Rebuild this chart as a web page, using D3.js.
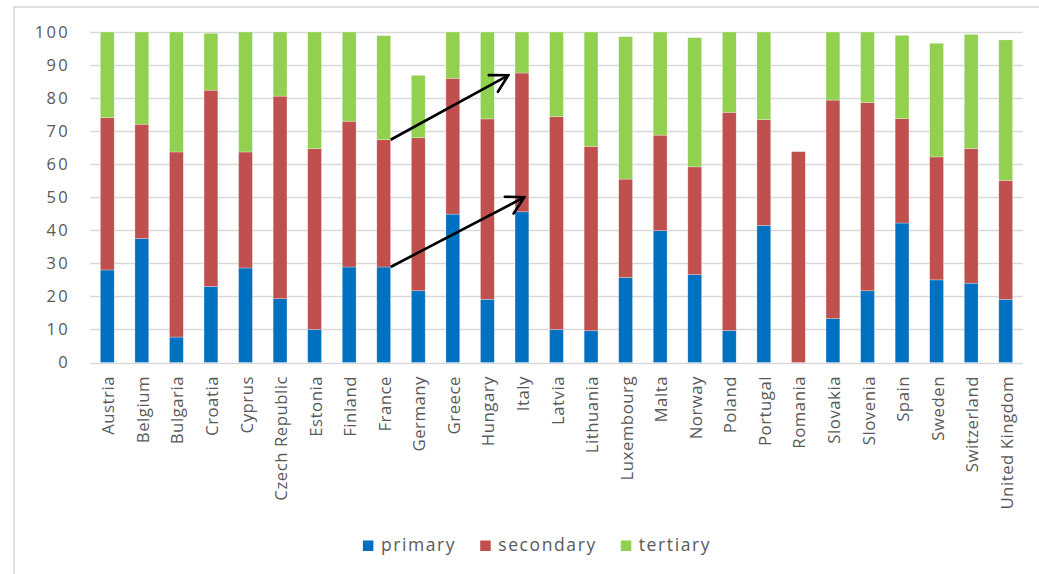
<!DOCTYPE html>
<html>
<head>
<meta charset="utf-8">
<script src="https://cdn.jsdelivr.net/npm/d3@7"></script>
<style>
  html, body { margin: 0; padding: 0; background: #fff; }
  svg { display: block; font-family: "Open Sans", "Noto Sans", sans-serif; }
</style>
</head>
<body>
<svg id="chart" width="1039" height="574"></svg>
<script>
// Share of each level (%) by country
const categories = ["Austria", "Belgium", "Bulgaria", "Croatia", "Cyprus", "Czech Republic",
  "Estonia", "Finland", "France", "Germany", "Greece", "Hungary", "Italy", "Latvia",
  "Lithuania", "Luxembourg", "Malta", "Norway", "Poland", "Portugal", "Romania",
  "Slovakia", "Slovenia", "Spain", "Sweden", "Switzerland", "United Kingdom"];

const primary   = [28.0, 37.5, 7.7, 23.0, 28.6, 19.3, 10.0, 28.9, 28.9, 21.7, 44.9, 19.1, 45.6, 10.0,
                   9.6, 25.7, 39.9, 26.6, 9.7, 41.5, 0.0, 13.3, 21.7, 42.2, 25.0, 24.0, 19.1];
const secondary = [46.1, 34.6, 56.0, 59.4, 35.1, 61.3, 54.7, 44.1, 38.5, 46.3, 41.1, 54.6, 42.0, 64.4,
                   55.8, 29.8, 28.9, 32.6, 66.0, 32.0, 63.8, 66.1, 57.0, 31.6, 37.2, 40.7, 36.0];
const tertiary  = [25.9, 27.9, 36.3, 17.2, 36.3, 19.4, 35.3, 27.0, 31.5, 18.9, 14.0, 26.3, 12.4, 25.6,
                   34.6, 43.1, 31.2, 39.1, 24.3, 26.5, 0.0, 20.6, 21.3, 25.2, 34.4, 34.6, 42.5];

const seriesNames = ["primary", "secondary", "tertiary"];
const seriesColors = ["#0070C0", "#C0504D", "#92D050"];
const yTicks = [0, 10, 20, 30, 40, 50, 60, 70, 80, 90, 100];

// Annotation arrows: from the France bar to the Italy bar
const arrowFrom = ["France", "France"];
const arrowFromValue = [67.4, 28.9];
const arrowTo = ["Italy", "Italy"];
const arrowToValue = [86.9, 50.0];
const arrowToOffset = [-0.49, 0.67]; // fraction of bar width from the bar's left edge

const rows = categories.map((c, i) => ({
  country: c, primary: primary[i], secondary: secondary[i], tertiary: tertiary[i]
}));

const svg = d3.select("#chart");
const textColor = "#595959";
const gridColor = "#d9d9d9";

// chart frame
svg.append("rect")
  .attr("x", 14).attr("y", 7).attr("width", 1060).attr("height", 620)
  .attr("fill", "none").attr("stroke", gridColor).attr("stroke-width", 1.6);

const x = d3.scaleBand().domain(categories).range([90, 1023])
  .paddingInner(0.6).paddingOuter(0.3);
const y = d3.scaleLinear().domain([0, 100]).range([362.5, 32]);

// gridlines
svg.append("g").selectAll("line").data(yTicks).join("line")
  .attr("x1", 90).attr("x2", 1023)
  .attr("y1", d => Math.round(y(d)) + 0.5).attr("y2", d => Math.round(y(d)) + 0.5)
  .attr("stroke", gridColor).attr("stroke-width", 1.3);

// y axis labels
const yAxis = svg.append("g").attr("transform", "translate(90,0)")
  .call(d3.axisLeft(y).tickValues(yTicks).tickSize(0).tickPadding(20));
yAxis.select(".domain").remove();
yAxis.selectAll("text")
  .attr("fill", textColor).style("font-size", "16.5px").style("letter-spacing", "2.3px")
  .style("font-family", "'Open Sans', sans-serif");

// stacked bars
const stack = d3.stack().keys(seriesNames)(rows);
svg.append("g").selectAll("g").data(stack).join("g")
  .attr("fill", (d, i) => seriesColors[i])
  .selectAll("rect").data(d => d).join("rect")
  .attr("x", d => x(d.data.country))
  .attr("width", x.bandwidth())
  .attr("y", d => y(d[1]))
  .attr("height", d => Math.max(0, y(d[0]) - y(d[1])))
  .attr("stroke", "rgba(255,255,255,0.45)").attr("stroke-width", 0.6);

// x axis labels (rotated)
svg.append("g").selectAll("text").data(categories).join("text")
  .attr("transform", d => `translate(${x(d) + x.bandwidth() / 2 + 1},376) rotate(-90)`)
  .attr("text-anchor", "end")
  .attr("dy", "0.36em")
  .attr("fill", textColor)
  .style("font-size", "16.8px").style("letter-spacing", "0.5px")
  .text(d => d);

// arrows
const defs = svg.append("defs");
defs.append("marker")
  .attr("id", "chevron").attr("viewBox", "-20 -12 22 24")
  .attr("markerWidth", 22).attr("markerHeight", 24)
  .attr("markerUnits", "userSpaceOnUse")
  .attr("refX", 0).attr("refY", 0).attr("orient", "auto")
  .append("path")
  .attr("d", "M-17,-9.5 L0,0 L-17,9.5")
  .attr("fill", "none").attr("stroke", "#000").attr("stroke-width", 2.6)
  .attr("stroke-linecap", "round").attr("stroke-linejoin", "miter");

const arrows = arrowFrom.map((f, i) => ({
  x1: x(f) + x.bandwidth(), y1: y(arrowFromValue[i]),
  x2: x(arrowTo[i]) + arrowToOffset[i] * x.bandwidth(), y2: y(arrowToValue[i])
}));
svg.append("g").selectAll("line").data(arrows).join("line")
  .attr("x1", d => d.x1).attr("y1", d => d.y1)
  .attr("x2", d => d.x2).attr("y2", d => d.y2)
  .attr("stroke", "#000").attr("stroke-width", 2.6)
  .attr("marker-end", "url(#chevron)");

// legend
const legend = svg.append("g");
const items = legend.selectAll("g").data(seriesNames).join("g");
items.append("rect").attr("width", 10.5).attr("height", 10.5).attr("y", -10.5)
  .attr("fill", (d, i) => seriesColors[i]);
items.append("text").attr("x", 18).attr("y", 0)
  .attr("fill", textColor).style("font-size", "17.5px").style("letter-spacing", "1.6px")
  .text(d => d);
let cursor = 0;
items.each(function () {
  const g = d3.select(this);
  g.attr("transform", `translate(${cursor},0)`);
  const w = 18 + g.select("text").node().getComputedTextLength();
  cursor += w + 24;
});
const total = cursor - 24;
legend.attr("transform", `translate(${537 - total / 2},551)`);
</script>
</body>
</html>
